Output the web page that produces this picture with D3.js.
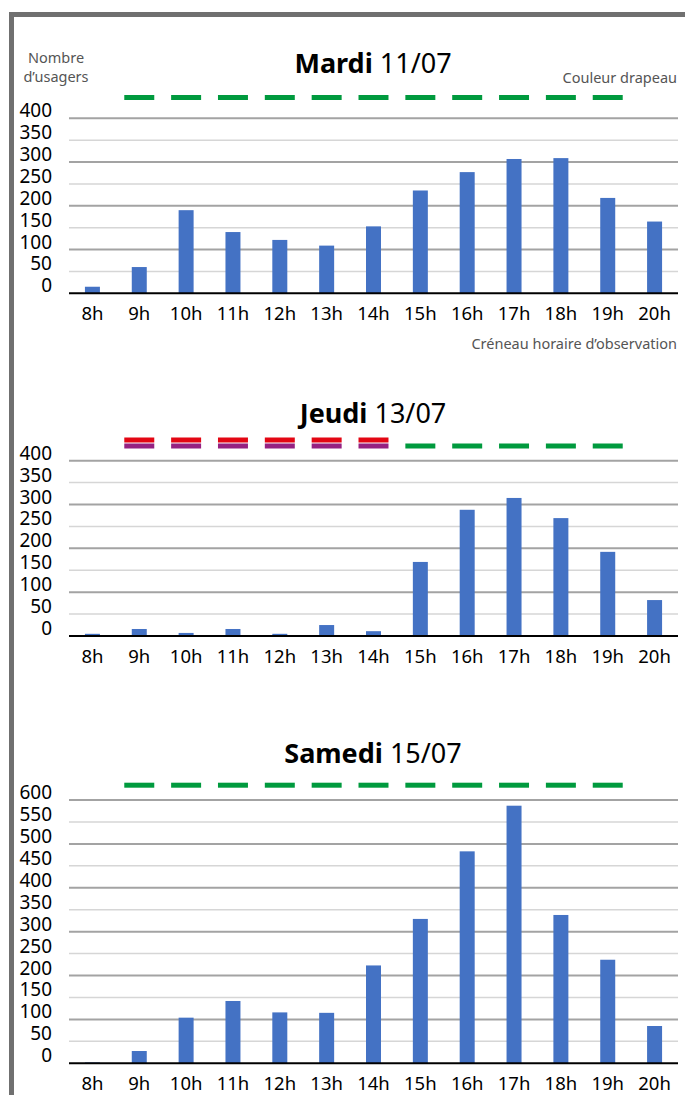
<!DOCTYPE html>
<html>
<head>
<meta charset="utf-8">
<script src="https://cdn.jsdelivr.net/npm/d3@7"></script>
<style>
  body { margin: 0; background: #fff; }
  svg text { font-family: "Noto Sans", "Open Sans", sans-serif; }
  .narrow { fill: #555; }
</style>
</head>
<body>
<div id="graph"></div>
<script>
var hours = ["8h", "9h", "10h", "11h", "12h", "13h", "14h", "15h", "16h", "17h", "18h", "19h", "20h"];

var mardi = [15, 60, 190, 140, 122, 109, 153, 235, 277, 307, 309, 218, 164];
var jeudi = [5, 16, 7, 16, 5, 25, 11, 169, 288, 315, 269, 192, 82];
var samedi = [2, 28, 104, 142, 116, 115, 223, 329, 483, 587, 338, 236, 85];

// couleur drapeau par creneau: "" = rien, "v" = vert, "rv" = rouge + violet
var flags_mardi = ["", "v", "v", "v", "v", "v", "v", "v", "v", "v", "v", "v", ""];
var flags_jeudi = ["", "rv", "rv", "rv", "rv", "rv", "rv", "v", "v", "v", "v", "v", ""];
var flags_samedi = ["", "v", "v", "v", "v", "v", "v", "v", "v", "v", "v", "v", ""];

var ticks_400 = [0, 50, 100, 150, 200, 250, 300, 350, 400];
var ticks_600 = [0, 50, 100, 150, 200, 250, 300, 350, 400, 450, 500, 550, 600];

var titles = [["Mardi", "11/07"], ["Jeudi", "13/07"], ["Samedi", "15/07"]];

var graph_w = 685;
var graph_h = 1095;

var green = "#009a3e";
var red = "#e30613";
var purple = "#962181";
var bar_blue = "#4472c4";

var x_ax = d3.scaleBand()
  .domain(hours)
  .range([69, 678])
  .paddingInner(0.68)
  .paddingOuter(0.34);

var svg_obj;

function draw_chart(values, flags, ticks, title, lay) {
  var y_ax = d3.scaleLinear()
    .domain([0, ticks[ticks.length - 1]])
    .range([lay.bottom, lay.top]);

  var g = svg_obj.append("g");

  // grid
  g.selectAll(".grid")
    .data(ticks.filter(function(t) { return t > 0; }))
    .enter()
      .append("line")
        .attr("x1", 69)
        .attr("x2", 678)
        .attr("y1", function(d) { return y_ax(d); })
        .attr("y2", function(d) { return y_ax(d); })
        .attr("stroke", function(d) { return (d % 100 == 0) ? "#a3a3a3" : "#d6d6d6"; })
        .attr("stroke-width", function(d) { return (d % 100 == 0) ? 2 : 1.5; });

  // y labels
  g.selectAll(".ylab")
    .data(ticks)
    .enter()
      .append("text")
        .attr("x", 52)
        .attr("y", function(d) { return y_ax(d) - 1; })
        .attr("text-anchor", "end")
        .attr("font-size", 19)
        .attr("fill", "#000")
        .text(function(d) { return d; });

  // bars
  g.selectAll(".bar")
    .data(values)
    .enter()
      .append("rect")
        .attr("x", function(d, i) { return x_ax(hours[i]); })
        .attr("width", x_ax.bandwidth())
        .attr("y", function(d) { return y_ax(d); })
        .attr("height", function(d) { return y_ax(0) - y_ax(d); })
        .attr("fill", bar_blue);

  // axe zero
  g.append("line")
    .attr("x1", 69)
    .attr("x2", 678)
    .attr("y1", y_ax(0))
    .attr("y2", y_ax(0))
    .attr("stroke", "#000")
    .attr("stroke-width", 2);

  // x labels
  g.selectAll(".xlab")
    .data(hours)
    .enter()
      .append("text")
        .attr("x", function(d) { return x_ax(d) + x_ax.bandwidth() / 2; })
        .attr("y", y_ax(0) + 27)
        .attr("text-anchor", "middle")
        .attr("font-size", 18.5)
        .attr("fill", "#000")
        .text(function(d) { return d; });

  // drapeaux
  var dash_w = x_ax.step() * 0.64;
  flags.forEach(function(f, i) {
    var cx = x_ax(hours[i]) + x_ax.bandwidth() / 2;
    if (f == "v") {
      g.append("rect").attr("x", cx - dash_w / 2).attr("y", lay.flag).attr("width", dash_w).attr("height", 5).attr("fill", green);
    } else if (f == "rv") {
      g.append("rect").attr("x", cx - dash_w / 2).attr("y", lay.flag - 6).attr("width", dash_w).attr("height", 5).attr("fill", red);
      g.append("rect").attr("x", cx - dash_w / 2).attr("y", lay.flag).attr("width", dash_w).attr("height", 5).attr("fill", purple);
    }
  });

  // titre
  var t = g.append("text")
    .attr("x", 373)
    .attr("y", lay.title)
    .attr("text-anchor", "middle")
    .attr("font-size", 27)
    .attr("fill", "#000");
  t.append("tspan").attr("font-weight", "bold").text(title[0]);
  t.append("tspan").text(" " + title[1]);
}

function setup() {
  svg_obj = d3.select("#graph").append("svg")
    .attr("width", graph_w)
    .attr("height", graph_h);

  // cadre
  svg_obj.append("rect").attr("x", 9).attr("y", 12).attr("width", 5).attr("height", graph_h - 12).attr("fill", "#707070");
  svg_obj.append("rect").attr("x", 9).attr("y", 12).attr("width", graph_w - 9).attr("height", 5).attr("fill", "#707070");

  draw_chart(mardi, flags_mardi, ticks_400, titles[0], {top: 118.3, bottom: 293.3, title: 73.3, flag: 95});
  draw_chart(jeudi, flags_jeudi, ticks_400, titles[1], {top: 460.7, bottom: 636, title: 423.3, flag: 443.5});
  draw_chart(samedi, flags_samedi, ticks_600, titles[2], {top: 800, bottom: 1063.3, title: 762.7, flag: 782.7});

  // libelles gris
  svg_obj.append("text").attr("class", "narrow").attr("x", 56).attr("y", 63).attr("text-anchor", "middle").attr("font-size", 14.5).text("Nombre");
  svg_obj.append("text").attr("class", "narrow").attr("x", 56).attr("y", 82).attr("text-anchor", "middle").attr("font-size", 14.5).text("d\u2019usagers");
  svg_obj.append("text").attr("class", "narrow").attr("x", 677).attr("y", 83).attr("text-anchor", "end").attr("font-size", 14.5).text("Couleur drapeau");
  svg_obj.append("text").attr("class", "narrow").attr("x", 677).attr("y", 349).attr("text-anchor", "end").attr("font-size", 14.5).text("Cr\u00e9neau horaire d\u2019observation");
}

setup();
</script>
</body>
</html>
